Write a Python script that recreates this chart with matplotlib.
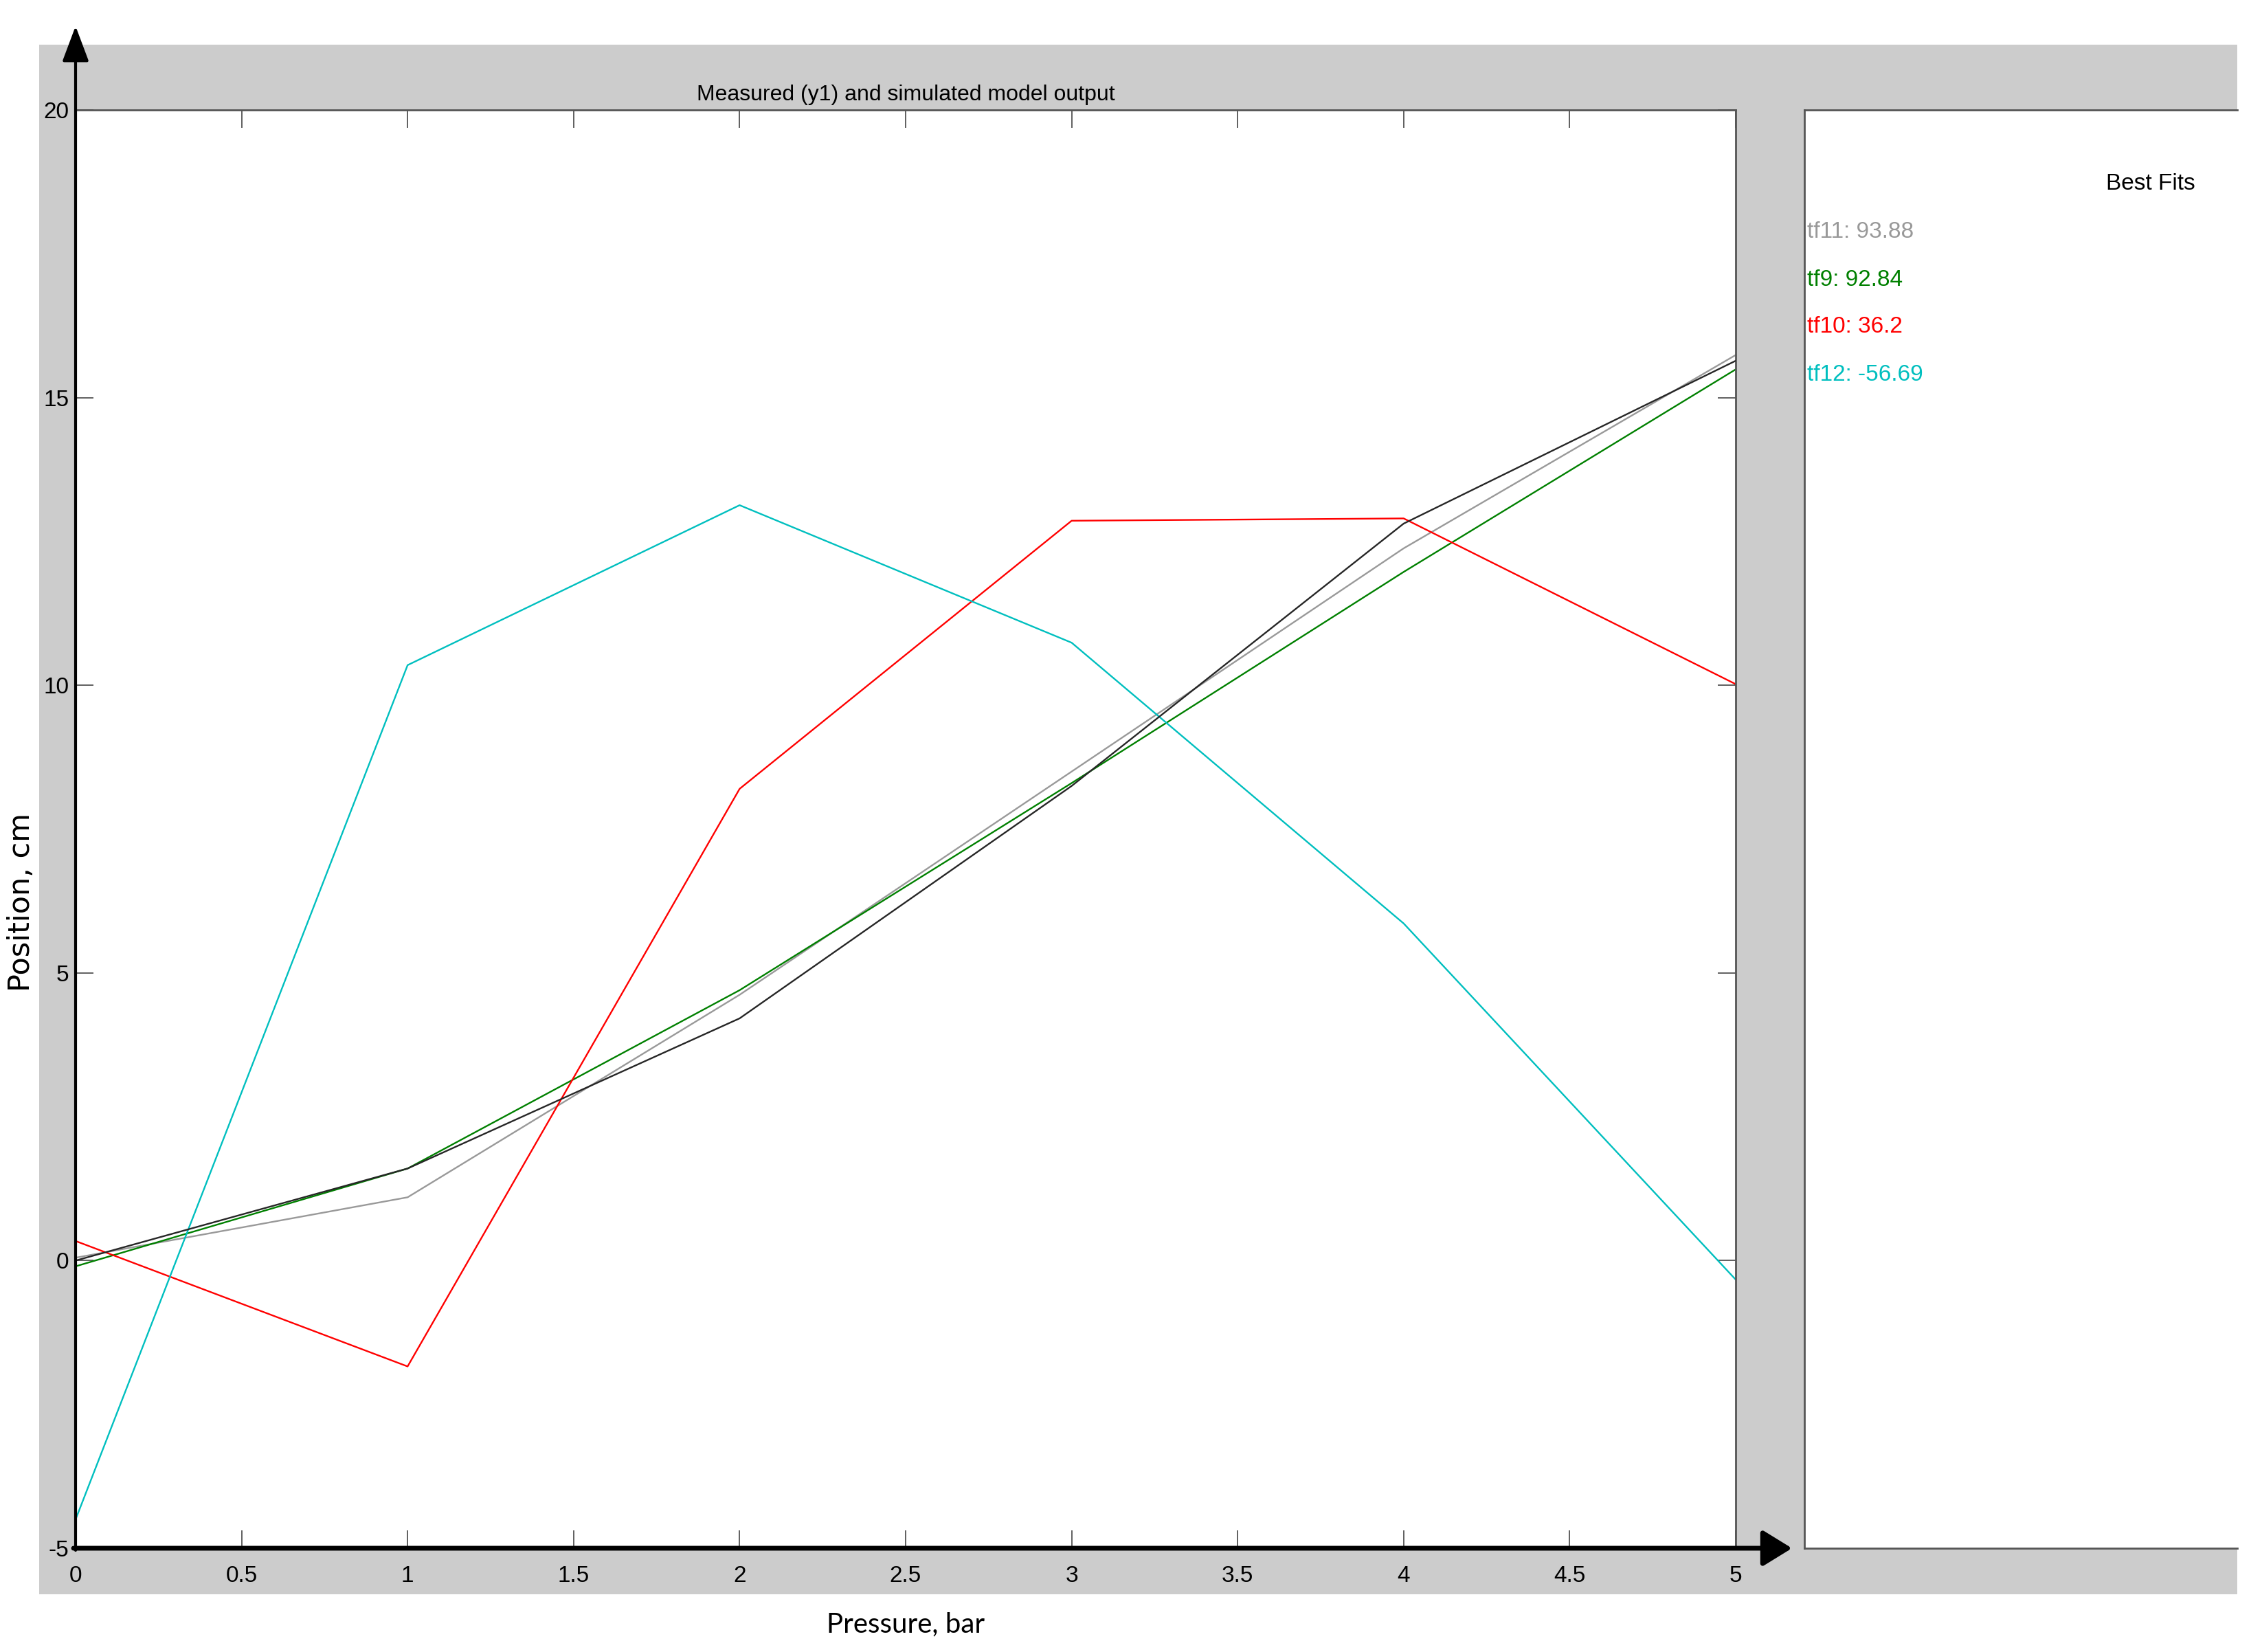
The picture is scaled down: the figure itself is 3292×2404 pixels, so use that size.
import matplotlib
matplotlib.use("Agg")
import matplotlib.pyplot as plt
from matplotlib.patches import Rectangle, FancyArrowPatch

# data
pressure = [0, 1, 2, 3, 4, 5]
measured = [0.0, 1.6, 4.21, 8.25, 12.81, 15.64]
tf11 = [0.05, 1.1, 4.62, 8.5, 12.38, 15.74]
tf9 = [-0.1, 1.6, 4.7, 8.3, 11.97, 15.49]
tf10 = [0.34, -1.84, 8.2, 12.86, 12.9, 10.02]
tf12 = [-4.5, 10.35, 13.13, 10.74, 5.86, -0.33]

fit_names = ["tf11", "tf9", "tf10", "tf12"]
fit_scores = ["93.88", "92.84", "36.2", "-56.69"]
fit_colors = ["#999999", "#008000", "#ff0000", "#00bfbf"]

xticks = [0, 0.5, 1, 1.5, 2, 2.5, 3, 3.5, 4, 4.5, 5]
yticks = [-5, 0, 5, 10, 15, 20]

narrow = ["Liberation Sans Narrow", "Liberation Sans", "DejaVu Sans"]
W, H = 3292, 2404
fig = plt.figure(figsize=(W / 100, H / 100), dpi=100)
fig.patch.set_facecolor("white")


def fx(px):
    return px / W


def fy(py):
    return 1 - py / H


# grey matlab-style figure background
fig.add_artist(Rectangle((fx(57), fy(2320)), fx(3256) - fx(57), fy(65) - fy(2320),
                         transform=fig.transFigure, facecolor="#cccccc", edgecolor="none", zorder=-5))

ax = fig.add_axes([fx(110), fy(2253), fx(2526) - fx(110), fy(160) - fy(2253)])
ax.set_facecolor("white")

ax.plot(pressure, measured, color="#262626", lw=1.7, zorder=5)
ax.plot(pressure, tf11, color=fit_colors[0], lw=1.7)
ax.plot(pressure, tf9, color=fit_colors[1], lw=1.7)
ax.plot(pressure, tf10, color=fit_colors[2], lw=1.7)
ax.plot(pressure, tf12, color=fit_colors[3], lw=1.7)

ax.set_xlim(0, 5)
ax.set_ylim(-5, 20)
ax.set_xticks(xticks)
ax.set_xticklabels([f"{t:g}" for t in xticks], family=narrow, fontsize=24)
ax.set_yticks(yticks)
ax.set_yticklabels([f"{t:g}" for t in yticks], family=narrow, fontsize=24)
ax.tick_params(axis="both", direction="in", length=19, width=1.2, color="#444444",
               top=True, right=True)
ax.tick_params(axis="x", pad=18)
ax.tick_params(axis="y", pad=7)

for side in ["top", "right"]:
    ax.spines[side].set_color("#555555")
    ax.spines[side].set_linewidth(2)
for side in ["left", "bottom"]:
    ax.spines[side].set_visible(False)

ax.set_title("Measured (y1) and simulated model output", family=narrow, fontsize=23, pad=10)
ax.set_xlabel("Pressure, bar", family=["Lato", "DejaVu Sans"], fontsize=29, labelpad=26)
fig.text(fx(31), fy(1313), "Position, cm", rotation=90, ha="center", va="center",
         family="DejaVu Sans", fontsize=31)

# axis arrows
fig.add_artist(FancyArrowPatch((fx(110), fy(2256)), (fx(110), fy(38)), transform=fig.transFigure,
                               arrowstyle="-|>,head_length=1.6,head_width=0.6", mutation_scale=20,
                               lw=3, color="black", shrinkA=0, shrinkB=0, zorder=10))
fig.add_artist(FancyArrowPatch((fx(107), fy(2253)), (fx(2608), fy(2253)), transform=fig.transFigure,
                               arrowstyle="-|>,head_length=1.3,head_width=0.8", mutation_scale=20,
                               lw=5, color="black", shrinkA=0, shrinkB=0, zorder=10))

# best fits panel
panel = fig.add_axes([fx(2626), fy(2253), fx(3256) - fx(2626), fy(160) - fy(2253)])
panel.set_xticks([])
panel.set_yticks([])
panel.set_xlim(0, 1)
panel.set_ylim(0, 1)
panel.spines["right"].set_visible(False)
for side in ["left", "top", "bottom"]:
    panel.spines[side].set_color("#555555")
    panel.spines[side].set_linewidth(2)
fig.text(fx(3130), fy(267), "Best Fits", ha="center", va="center", family=narrow, fontsize=24)
for i, (name, score, col) in enumerate(zip(fit_names, fit_scores, fit_colors)):
    fig.text(fx(2630), fy(338 + 69 * i), f"{name}: {score}", ha="left", va="center",
             family=narrow, fontsize=24, color=col)

fig.savefig("out.png", dpi=100)
